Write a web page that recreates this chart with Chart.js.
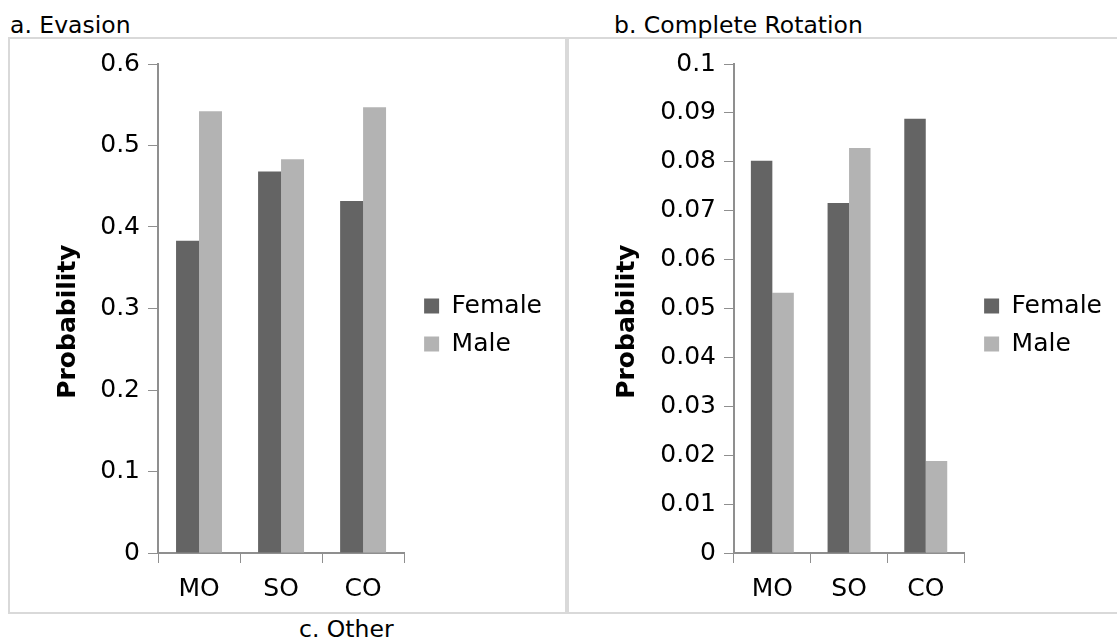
<!DOCTYPE html>
<html>
<head>
<meta charset="utf-8">
<script src="https://cdn.jsdelivr.net/npm/chart.js@4.4.1/dist/chart.umd.min.js"></script>
<style>
  body { margin:0; width:1117px; height:641px; overflow:hidden; background:#fff; position:relative; font-family:"DejaVu Sans", sans-serif; }
  .panel { position:absolute; border:2px solid #d9d9d9; box-sizing:border-box; }
  .titulo { position:absolute; font-size:23.5px; line-height:24px; color:#000; white-space:nowrap; }
  canvas { position:absolute; }
</style>
</head>
<body>
<div class="panel" style="left:8px; top:37px; width:559px; height:577px;"></div>
<div class="panel" style="left:567px; top:37px; width:560px; height:577px;"></div>
<div class="titulo" style="left:10px; top:13px;">a. Evasion</div>
<div class="titulo" style="left:614px; top:13px;">b. Complete Rotation</div>
<div class="titulo" style="left:299px; top:617px;">c. Other</div>
<canvas id="graficoA" style="left:10px; top:39px;" width="554" height="572"></canvas>
<canvas id="graficoB" style="left:569px; top:39px;" width="548" height="572"></canvas>
<script>
// datos
const categorias = ["MO", "SO", "CO"];
const evasionFemale = [0.383, 0.468, 0.432];
const evasionMale = [0.542, 0.483, 0.547];
const rotacionFemale = [0.0802, 0.0716, 0.0888];
const rotacionMale = [0.0532, 0.0828, 0.0188];
const ticksEvasion = [0, 0.1, 0.2, 0.3, 0.4, 0.5, 0.6];
const etiquetasEvasion = ["0", "0.1", "0.2", "0.3", "0.4", "0.5", "0.6"];
const ticksRotacion = [0, 0.01, 0.02, 0.03, 0.04, 0.05, 0.06, 0.07, 0.08, 0.09, 0.1];
const etiquetasRotacion = ["0", "0.01", "0.02", "0.03", "0.04", "0.05", "0.06", "0.07", "0.08", "0.09", "0.1"];

const fuente = "DejaVu Sans";
const colorFemale = "#646464";
const colorMale = "#b3b3b3";
const colorEje = "#8f8f8f";

Chart.defaults.font.family = fuente;
Chart.defaults.color = "#000";

function crearGrafico(id, female, male, ticks, etiquetas, anchoEje, rellenoDerecha){
    return new Chart(document.getElementById(id), {
        type: "bar",
        data: {
            labels: categorias,
            datasets: [
                { label: "Female", data: female, backgroundColor: colorFemale },
                { label: "Male", data: male, backgroundColor: colorMale }
            ]
        },
        options: {
            responsive: false,
            animation: false,
            layout: { padding: { top: 7, bottom: 7, left: 0, right: rellenoDerecha } },
            datasets: { bar: { categoryPercentage: 0.56, barPercentage: 1, borderWidth: 0 } },
            plugins: {
                // titulo vacio: solo deja espacio arriba para centrar la leyenda
                title: { display: true, text: "", padding: 0, font: { size: 15 } },
                legend: {
                    position: "right",
                    maxWidth: 300,
                    labels: { boxWidth: 15, boxHeight: 15, padding: 13, color: "#000", font: { size: 25 } }
                },
                tooltip: { enabled: false }
            },
            scales: {
                x: {
                    grid: { display: true, drawOnChartArea: false, offset: true, tickLength: 10, color: colorEje },
                    border: { color: colorEje, width: 2 },
                    ticks: { color: "#000", font: { size: 25 }, padding: 11 },
                    afterFit: (s) => { s.height = 51; }
                },
                y: {
                    min: ticks[0],
                    max: ticks[ticks.length - 1],
                    grid: { drawOnChartArea: false, tickLength: 10, color: colorEje },
                    border: { color: colorEje, width: 2 },
                    ticks: { color: "#000", font: { size: 25 }, padding: 8, callback: (v, i) => etiquetas[i] },
                    afterBuildTicks: (s) => { s.ticks = ticks.map((v) => ({ value: v })); },
                    title: {
                        display: true,
                        text: "Probability   ",
                        color: "#000",
                        font: { size: 25, weight: "bold" },
                        padding: { top: 43, bottom: 0 }
                    },
                    afterFit: (s) => { s.width = anchoEje; }
                },
                // pequeno hueco entre el area del grafico y la leyenda
                hueco: {
                    type: "linear",
                    position: "right",
                    grid: { display: false },
                    border: { display: false },
                    ticks: { display: false },
                    afterFit: (s) => { s.width = 7; }
                }
            }
        }
    });
}

crearGrafico("graficoA", evasionFemale, evasionMale, ticksEvasion, etiquetasEvasion, 148, 12);
crearGrafico("graficoB", rotacionFemale, rotacionMale, ticksRotacion, etiquetasRotacion, 165, 5);
</script>
</body>
</html>
